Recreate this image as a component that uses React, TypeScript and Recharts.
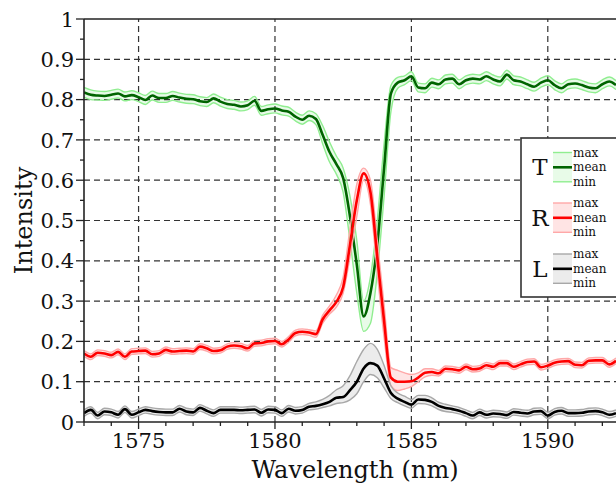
import React from 'react';
import { ComposedChart, Area, Line, XAxis, YAxis, ReferenceLine, Legend, Label } from 'recharts';

const wavelength = [
  1573.0, 1573.25, 1573.5, 1573.75, 1574.0, 1574.25, 1574.5, 1574.75, 1575.0, 1575.25,
  1575.5, 1575.75, 1576.0, 1576.25, 1576.5, 1576.75, 1577.0, 1577.25, 1577.5, 1577.75,
  1578.0, 1578.25, 1578.5, 1578.75, 1579.0, 1579.25, 1579.5, 1579.75, 1580.0, 1580.25,
  1580.5, 1580.75, 1581.0, 1581.25, 1581.5, 1581.75, 1582.0, 1582.25, 1582.5, 1582.75,
  1583.0, 1583.25, 1583.5, 1583.75, 1584.0, 1584.25, 1584.5, 1584.75, 1585.0, 1585.25,
  1585.5, 1585.75, 1586.0, 1586.25, 1586.5, 1586.75, 1587.0, 1587.25, 1587.5, 1587.75,
  1588.0, 1588.25, 1588.5, 1588.75, 1589.0, 1589.25, 1589.5, 1589.75, 1590.0, 1590.25,
  1590.5, 1590.75, 1591.0, 1591.25, 1591.5, 1591.75, 1592.0, 1592.25, 1592.5,
];

const tMean = [
  0.818, 0.812, 0.810, 0.809, 0.812, 0.815, 0.808, 0.811, 0.806, 0.799,
  0.810, 0.804, 0.804, 0.809, 0.805, 0.802, 0.801, 0.796, 0.794, 0.803,
  0.795, 0.789, 0.787, 0.783, 0.786, 0.797, 0.772, 0.776, 0.778, 0.773,
  0.770, 0.758, 0.750, 0.760, 0.752, 0.712, 0.670, 0.640, 0.605, 0.510,
  0.390, 0.262, 0.320, 0.440, 0.630, 0.815, 0.842, 0.848, 0.858, 0.830,
  0.828, 0.842, 0.838, 0.850, 0.852, 0.838, 0.848, 0.852, 0.850, 0.858,
  0.850, 0.845, 0.862, 0.848, 0.845, 0.838, 0.832, 0.842, 0.848, 0.836,
  0.828, 0.838, 0.840, 0.836, 0.830, 0.828, 0.838, 0.845, 0.836,
];
const tMax = [
  0.830, 0.824, 0.821, 0.820, 0.823, 0.826, 0.819, 0.822, 0.817, 0.810,
  0.821, 0.815, 0.815, 0.820, 0.816, 0.813, 0.812, 0.807, 0.805, 0.814,
  0.806, 0.800, 0.798, 0.794, 0.797, 0.808, 0.783, 0.787, 0.789, 0.784,
  0.781, 0.769, 0.761, 0.772, 0.765, 0.735, 0.695, 0.660, 0.630, 0.560,
  0.450, 0.300, 0.360, 0.500, 0.690, 0.835, 0.855, 0.859, 0.869, 0.841,
  0.839, 0.853, 0.849, 0.861, 0.863, 0.849, 0.859, 0.863, 0.861, 0.869,
  0.861, 0.856, 0.873, 0.859, 0.856, 0.849, 0.843, 0.853, 0.859, 0.847,
  0.839, 0.849, 0.851, 0.847, 0.841, 0.839, 0.849, 0.856, 0.847,
];
const tMin = [
  0.806, 0.800, 0.799, 0.798, 0.801, 0.804, 0.797, 0.800, 0.795, 0.788,
  0.799, 0.793, 0.793, 0.798, 0.794, 0.791, 0.790, 0.785, 0.783, 0.792,
  0.784, 0.778, 0.776, 0.772, 0.775, 0.786, 0.761, 0.765, 0.767, 0.762,
  0.759, 0.747, 0.739, 0.748, 0.738, 0.690, 0.645, 0.615, 0.570, 0.450,
  0.320, 0.225, 0.245, 0.370, 0.560, 0.770, 0.828, 0.837, 0.847, 0.819,
  0.817, 0.831, 0.827, 0.839, 0.841, 0.827, 0.837, 0.841, 0.839, 0.847,
  0.839, 0.834, 0.851, 0.837, 0.834, 0.827, 0.821, 0.831, 0.837, 0.825,
  0.817, 0.827, 0.829, 0.825, 0.819, 0.817, 0.827, 0.834, 0.825,
];

const rMean = [
  0.170, 0.162, 0.172, 0.170, 0.166, 0.174, 0.162, 0.175, 0.176, 0.177,
  0.168, 0.170, 0.179, 0.175, 0.176, 0.177, 0.175, 0.187, 0.183, 0.176,
  0.178, 0.187, 0.190, 0.188, 0.183, 0.195, 0.196, 0.200, 0.201, 0.193,
  0.205, 0.221, 0.224, 0.222, 0.218, 0.255, 0.277, 0.298, 0.335, 0.440,
  0.550, 0.617, 0.570, 0.410, 0.250, 0.110, 0.100, 0.100, 0.101, 0.110,
  0.122, 0.124, 0.121, 0.132, 0.131, 0.128, 0.137, 0.131, 0.133, 0.141,
  0.137, 0.146, 0.146, 0.137, 0.143, 0.149, 0.150, 0.136, 0.140, 0.147,
  0.150, 0.151, 0.142, 0.141, 0.152, 0.153, 0.153, 0.143, 0.152,
];
const rMax = [
  0.177, 0.169, 0.179, 0.177, 0.173, 0.181, 0.169, 0.182, 0.183, 0.184,
  0.175, 0.177, 0.186, 0.182, 0.183, 0.184, 0.182, 0.194, 0.190, 0.183,
  0.185, 0.194, 0.197, 0.195, 0.190, 0.202, 0.203, 0.207, 0.208, 0.200,
  0.212, 0.228, 0.231, 0.229, 0.226, 0.265, 0.288, 0.315, 0.360, 0.480,
  0.590, 0.630, 0.600, 0.450, 0.290, 0.135, 0.128, 0.122, 0.118, 0.122,
  0.132, 0.132, 0.128, 0.139, 0.138, 0.135, 0.144, 0.138, 0.140, 0.148,
  0.144, 0.153, 0.153, 0.144, 0.150, 0.156, 0.157, 0.143, 0.147, 0.154,
  0.157, 0.158, 0.149, 0.148, 0.159, 0.160, 0.160, 0.150, 0.159,
];
const rMin = [
  0.163, 0.155, 0.165, 0.163, 0.159, 0.167, 0.155, 0.168, 0.169, 0.170,
  0.161, 0.163, 0.172, 0.168, 0.169, 0.170, 0.168, 0.180, 0.176, 0.169,
  0.171, 0.180, 0.183, 0.181, 0.176, 0.188, 0.189, 0.193, 0.194, 0.186,
  0.198, 0.214, 0.217, 0.215, 0.210, 0.245, 0.268, 0.285, 0.320, 0.410,
  0.510, 0.600, 0.540, 0.370, 0.210, 0.090, 0.078, 0.082, 0.088, 0.100,
  0.112, 0.116, 0.114, 0.125, 0.124, 0.121, 0.130, 0.124, 0.126, 0.134,
  0.130, 0.139, 0.139, 0.130, 0.136, 0.142, 0.143, 0.129, 0.133, 0.140,
  0.143, 0.144, 0.135, 0.134, 0.145, 0.146, 0.146, 0.136, 0.145,
];

const lMean = [
  0.022, 0.030, 0.016, 0.026, 0.024, 0.018, 0.032, 0.018, 0.024, 0.030,
  0.027, 0.025, 0.024, 0.024, 0.033, 0.026, 0.024, 0.035, 0.028, 0.022,
  0.030, 0.030, 0.030, 0.029, 0.030, 0.031, 0.023, 0.031, 0.030, 0.022,
  0.033, 0.028, 0.030, 0.038, 0.040, 0.044, 0.050, 0.060, 0.062, 0.079,
  0.100, 0.133, 0.146, 0.140, 0.108, 0.072, 0.058, 0.050, 0.043, 0.056,
  0.055, 0.050, 0.040, 0.035, 0.032, 0.028, 0.022, 0.016, 0.024, 0.018,
  0.021, 0.020, 0.017, 0.025, 0.023, 0.021, 0.026, 0.027, 0.016, 0.025,
  0.028, 0.022, 0.022, 0.023, 0.026, 0.027, 0.024, 0.018, 0.022,
];
const lMax = [
  0.030, 0.038, 0.024, 0.034, 0.032, 0.026, 0.040, 0.026, 0.032, 0.038,
  0.035, 0.033, 0.032, 0.032, 0.041, 0.034, 0.032, 0.043, 0.036, 0.030,
  0.038, 0.038, 0.038, 0.037, 0.038, 0.039, 0.031, 0.039, 0.038, 0.030,
  0.041, 0.036, 0.038, 0.046, 0.050, 0.056, 0.066, 0.080, 0.090, 0.115,
  0.150, 0.180, 0.195, 0.180, 0.140, 0.090, 0.072, 0.064, 0.056, 0.066,
  0.066, 0.060, 0.049, 0.044, 0.040, 0.036, 0.030, 0.024, 0.032, 0.026,
  0.029, 0.028, 0.025, 0.033, 0.031, 0.029, 0.034, 0.035, 0.024, 0.033,
  0.036, 0.030, 0.030, 0.031, 0.034, 0.035, 0.032, 0.026, 0.030,
];
const lMin = [
  0.014, 0.022, 0.008, 0.018, 0.016, 0.010, 0.024, 0.010, 0.016, 0.022,
  0.019, 0.017, 0.016, 0.016, 0.025, 0.018, 0.016, 0.027, 0.020, 0.014,
  0.022, 0.022, 0.022, 0.021, 0.022, 0.023, 0.015, 0.023, 0.022, 0.014,
  0.025, 0.020, 0.022, 0.030, 0.032, 0.036, 0.040, 0.046, 0.048, 0.055,
  0.070, 0.100, 0.118, 0.110, 0.085, 0.058, 0.048, 0.040, 0.034, 0.046,
  0.045, 0.040, 0.031, 0.026, 0.024, 0.020, 0.014, 0.008, 0.016, 0.010,
  0.013, 0.012, 0.009, 0.017, 0.015, 0.013, 0.018, 0.019, 0.008, 0.017,
  0.020, 0.014, 0.014, 0.015, 0.018, 0.019, 0.016, 0.010, 0.014,
];

const xTicks = [1573, 1574, 1575, 1576, 1577, 1578, 1579, 1580, 1581, 1582, 1583, 1584, 1585, 1586, 1587, 1588, 1589, 1590, 1591, 1592];
const xMajor = [1575, 1580, 1585, 1590];
const yTicks = [0, 0.05, 0.1, 0.15, 0.2, 0.25, 0.3, 0.35, 0.4, 0.45, 0.5, 0.55, 0.6, 0.65, 0.7, 0.75, 0.8, 0.85, 0.9, 0.95, 1];
const yGrid = [0.1, 0.2, 0.3, 0.4, 0.5, 0.6, 0.7, 0.8, 0.9];
const yMajorLabels = ['0', '0.1', '0.2', '0.3', '0.4', '0.5', '0.6', '0.7', '0.8', '0.9', '1'];

const FONT = '"DejaVu Serif", "Liberation Serif", serif';
const AXIS = '#222';

const SERIES = [
  { key: 't', name: 'T', mean: '#006400', band: '#90ee90', fill: '#e8fbe8' },
  { key: 'r', name: 'R', mean: '#ff0000', band: '#ffa8a8', fill: '#ffe4e4' },
  { key: 'l', name: 'L', mean: '#000000', band: '#a8a8a8', fill: '#ececec' },
];

const data = wavelength.map((wl, i) => ({
  wl,
  tMean: tMean[i], tMax: tMax[i], tMin: tMin[i], tBand: [tMin[i], tMax[i]],
  rMean: rMean[i], rMax: rMax[i], rMin: rMin[i], rBand: [rMin[i], rMax[i]],
  lMean: lMean[i], lMax: lMax[i], lMin: lMin[i], lBand: [lMin[i], lMax[i]],
}));

const XTick = (props: any) => {
  const { x, y, payload } = props;
  const v = payload.value;
  const major = xMajor.includes(v);
  return (
    <g>
      <line x1={x} x2={x} y1={y} y2={y + (major ? 7 : 4)} stroke={AXIS} strokeWidth={1.3} />
      {major && (
        <text x={x} y={y + 26} textAnchor="middle" fontFamily={FONT} fontSize={21} fill="#111">
          {v}
        </text>
      )}
    </g>
  );
};

const YTick = (props: any) => {
  const { x, y, payload } = props;
  const v = payload.value as number;
  const idx = Math.round(v * 20);
  const major = idx % 2 === 0;
  return (
    <g>
      <line x1={x - (major ? 8 : 4)} x2={x} y1={y} y2={y} stroke={AXIS} strokeWidth={1.3} />
      {major && (
        <text x={x - 10} y={y + 7.6} textAnchor="end" fontFamily={FONT} fontSize={21} fill="#111">
          {yMajorLabels[idx / 2]}
        </text>
      )}
    </g>
  );
};

const LegendBox = () => {
  const groupTop = [15.5, 66, 117];
  return (
    <svg width={96} height={162} style={{ display: 'block' }}>
      <rect x={1} y={1} width={110} height={159} fill="#fff" stroke="#333" strokeWidth={1.6} />
      {SERIES.map((s, gi) => {
        const top = groupTop[gi];
        const mid = top + 14.8;
        const bot = top + 29.3;
        return (
          <g key={s.key}>
            <text x={20} y={mid + 8} textAnchor="middle" fontFamily={FONT} fontSize={23} fill="#111">
              {s.name}
            </text>
            <rect x={33} y={top} width={19} height={bot - top} fill={s.fill} />
            <line x1={33} x2={52} y1={top} y2={top} stroke={s.band} strokeWidth={1.4} />
            <line x1={33} x2={52} y1={bot} y2={bot} stroke={s.band} strokeWidth={1.4} />
            <line x1={33} x2={52} y1={mid} y2={mid} stroke={s.mean} strokeWidth={2.6} />
            <text x={53} y={top + 4} fontFamily={FONT} fontSize={12} fill="#111">max</text>
            <text x={53} y={mid + 4} fontFamily={FONT} fontSize={12} fill="#111">mean</text>
            <text x={53} y={bot + 4} fontFamily={FONT} fontSize={12} fill="#111">min</text>
          </g>
        );
      })}
    </svg>
  );
};

export default function App() {
  return (
    <div style={{ position: 'absolute', left: 0, top: 0, width: 616, height: 486, overflow: 'hidden', background: '#fff' }}>
      <ComposedChart width={616} height={486} data={data} margin={{ top: 19, right: 0, bottom: 0, left: 0 }}>
        <XAxis
          dataKey="wl"
          type="number"
          domain={[1573, 1592.5]}
          allowDataOverflow
          ticks={xTicks}
          interval={0}
          tickLine={false}
          tickSize={0}
          tickMargin={0}
          tick={<XTick />}
          height={64}
          axisLine={{ stroke: AXIS, strokeWidth: 1.6 }}
        >
          <Label
            content={(p: any) => {
              const vb = p.viewBox || { x: 84, y: 422, width: 532, height: 64 };
              return (
                <text x={vb.x + vb.width / 2 + 5} y={vb.y + 56} textAnchor="middle" fontFamily={FONT} fontSize={24} fill="#111">
                  Wavelength (nm)
                </text>
              );
            }}
          />
        </XAxis>
        <YAxis
          type="number"
          domain={[0, 1]}
          allowDataOverflow
          ticks={yTicks}
          interval={0}
          tickLine={false}
          tickSize={0}
          tickMargin={0}
          tick={<YTick />}
          width={84}
          axisLine={{ stroke: AXIS, strokeWidth: 1.6 }}
        >
          <Label
            content={(p: any) => {
              const vb = p.viewBox || { x: 0, y: 19, width: 84, height: 403 };
              const cx = vb.x + 24;
              const cy = vb.y + vb.height / 2;
              return (
                <text x={cx} y={cy} transform={`rotate(-90 ${cx} ${cy})`} textAnchor="middle" dominantBaseline="central" fontFamily={FONT} fontSize={24} fill="#111">
                  Intensity
                </text>
              );
            }}
          />
        </YAxis>

        {xMajor.map((v) => (
          <ReferenceLine key={`gx${v}`} x={v} stroke="#333" strokeWidth={1.2} strokeDasharray="6 4" />
        ))}
        {yGrid.map((v) => (
          <ReferenceLine key={`gy${v}`} y={v} stroke="#333" strokeWidth={1.2} strokeDasharray="6 4" />
        ))}
        <ReferenceLine y={1} stroke={AXIS} strokeWidth={1.6} />

        {SERIES.map((s) => [
          <Area
            key={`${s.key}band`}
            dataKey={`${s.key}Band`}
            type="monotone"
            stroke="none"
            fill={s.fill}
            fillOpacity={1}
            isAnimationActive={false}
            dot={false}
            activeDot={false}
          />,
          <Line key={`${s.key}max`} dataKey={`${s.key}Max`} type="monotone" stroke={s.band} strokeWidth={1.4} dot={false} activeDot={false} isAnimationActive={false} />,
          <Line key={`${s.key}min`} dataKey={`${s.key}Min`} type="monotone" stroke={s.band} strokeWidth={1.4} dot={false} activeDot={false} isAnimationActive={false} />,
          <Line key={`${s.key}mean`} dataKey={`${s.key}Mean`} type="monotone" stroke={s.mean} strokeWidth={2.6} dot={false} activeDot={false} isAnimationActive={false} />,
        ])}

        <Legend
          layout="vertical"
          align="center"
          verticalAlign="middle"
          wrapperStyle={{ left: 520, top: 137, width: 96, height: 162 }}
          content={() => <LegendBox />}
        />
      </ComposedChart>
    </div>
  );
}
